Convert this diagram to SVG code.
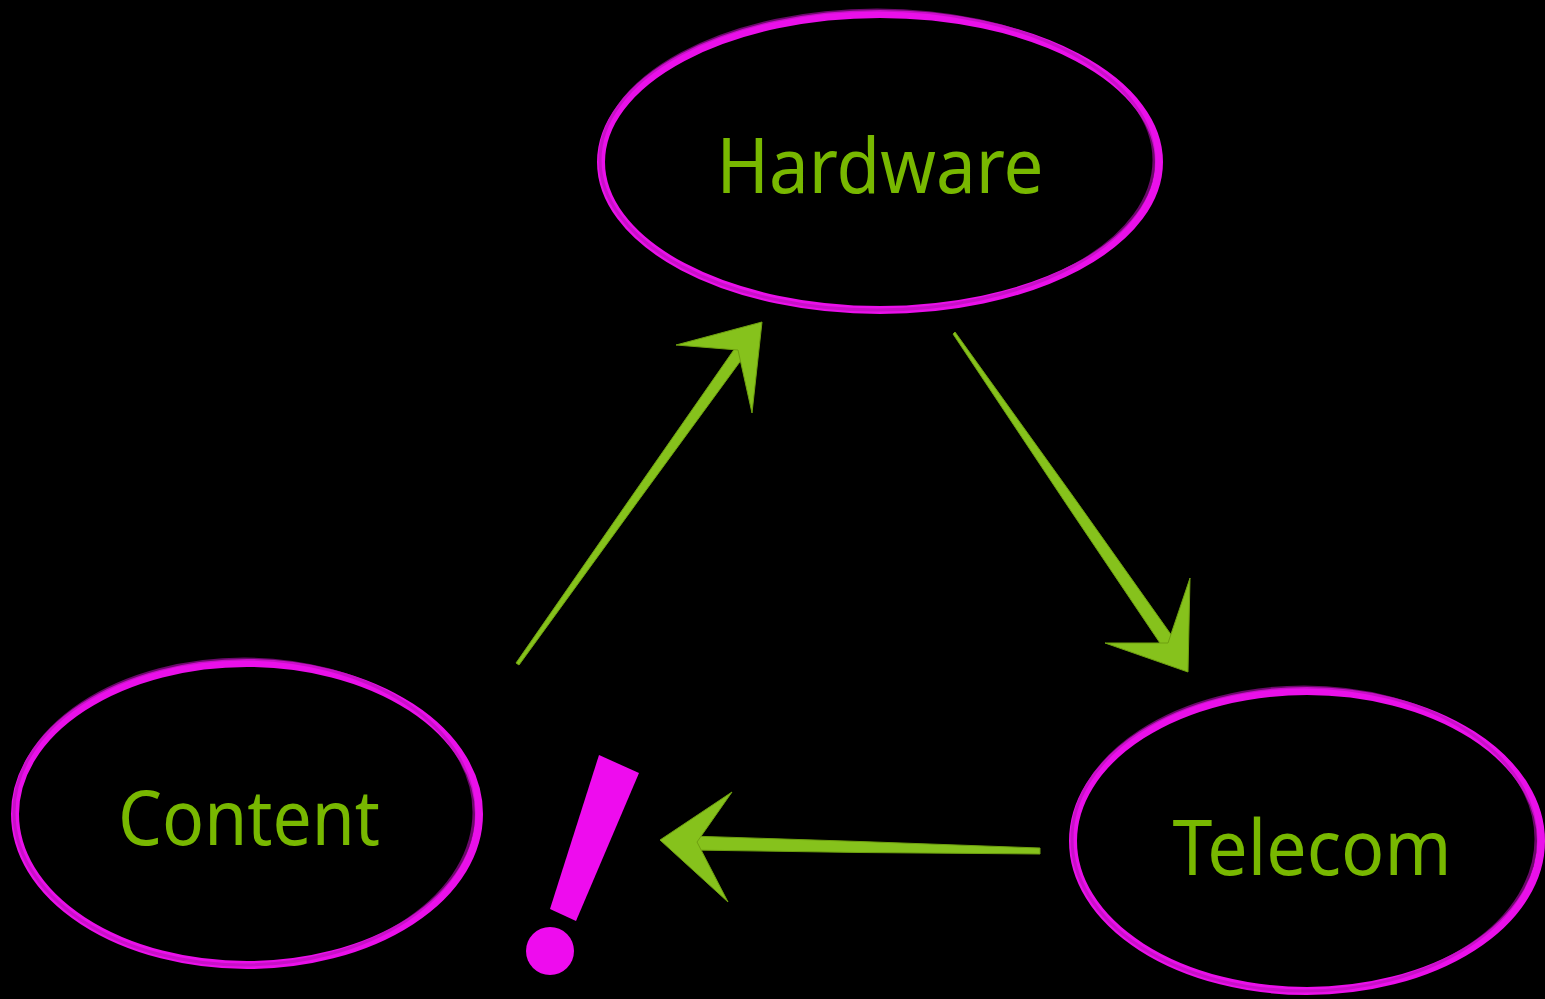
<svg xmlns="http://www.w3.org/2000/svg" width="1545" height="999" viewBox="0 0 1545 999">
<style>
.ring{fill:none;stroke:#ea10ea;stroke-width:8}
.ring2{fill:none;stroke:#b010b0;stroke-width:3;opacity:0.6}
.lbl{font-family:"Noto Sans","Open Sans",sans-serif;font-size:76px;fill:#78b800;text-anchor:middle}
.arw{fill:#86c21c;stroke:#6fa010;stroke-width:1;stroke-linejoin:round}
</style>
<rect x="0" y="0" width="1545" height="999" fill="#000"/>
<g id="hardware">
<ellipse class="ring" cx="880" cy="162" rx="279" ry="148"/>
<ellipse class="ring2" cx="877" cy="160" rx="277" ry="150"/>
<text class="lbl" x="880" y="193" textLength="327" lengthAdjust="spacingAndGlyphs">Hardware</text>
</g>
<g id="content">
<ellipse class="ring" cx="247" cy="814" rx="232" ry="151"/>
<ellipse class="ring2" cx="244" cy="812" rx="230" ry="153"/>
<text class="lbl" x="249" y="845" textLength="262" lengthAdjust="spacingAndGlyphs">Content</text>
</g>
<g id="telecom">
<ellipse class="ring" cx="1307" cy="841" rx="234" ry="150"/>
<ellipse class="ring2" cx="1304" cy="839" rx="232" ry="152"/>
<text class="lbl" x="1312" y="875" textLength="279" lengthAdjust="spacingAndGlyphs">Telecom</text>
</g>
<g id="connectors">
<polygon class="arw" points="516,663 630.8,497.7 740,341 750,348 637.2,502.3 519,665"/>
<polygon class="arw" points="762,322 676,345 738,350 752,413"/>
<polygon class="arw" points="955,332 1073.7,497.2 1177,643 1166,652 1065.5,502.8 953,334"/>
<polygon class="arw" points="1188,672 1105,643 1168,643 1190,578"/>
<polygon class="arw" points="1040,848 860,841.5 690,836 690,850 860,852.5 1040,854"/>
<polygon class="arw" points="660,840 732,792 697,842 728,902"/>
</g>
<g id="exclamation">
<polygon points="599,755 639,773 576,921 550,909" fill="#ee0cee"/>
<circle cx="550" cy="951" r="24" fill="#ee0cee"/>
</g>
</svg>
